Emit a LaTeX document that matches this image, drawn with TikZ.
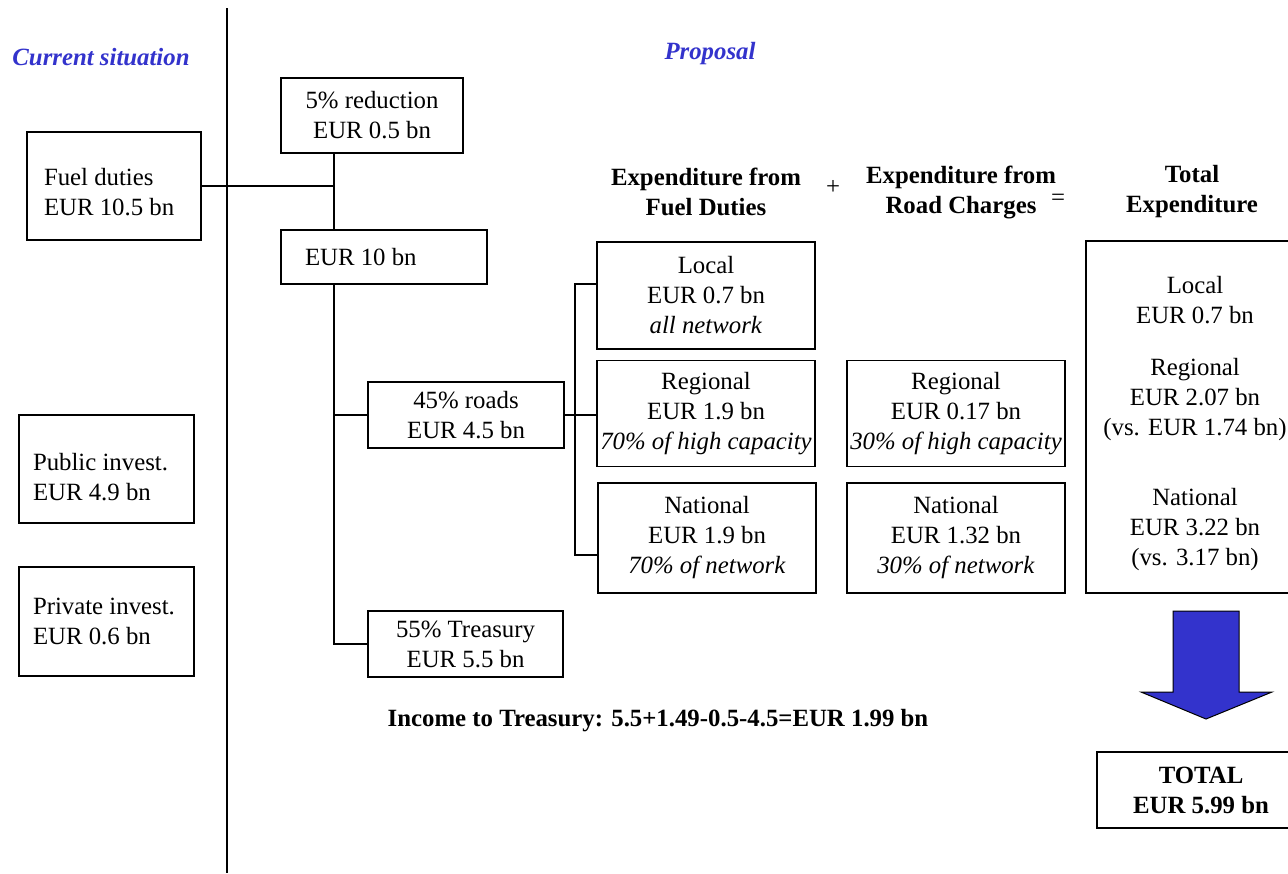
\documentclass[tikz,border=0pt]{standalone}
\usepackage{fontspec}
\setmainfont{Liberation Serif}
\definecolor{headblue}{RGB}{51,51,204}
\newcommand{\diagfont}{\fontsize{12.4}{15}\selectfont}
\begin{document}
\begin{tikzpicture}[
  x=0.5pt, y=-0.5pt,
  every node/.style={font=\diagfont},
  box/.style={rectangle, draw=black, line width=0.7pt, align=center, inner sep=0pt},
  leftbox/.style={rectangle, draw=black, line width=0.7pt, align=flush left, inner ysep=0pt, inner xsep=#1},
  title/.style={font=\diagfont\bfseries\itshape, text=headblue},
  head/.style={font=\diagfont\bfseries, align=center},
  link/.style={line width=0.7pt}
]
\useasboundingbox (0,0) rectangle (1288,873);

% Current situation
\node[title] (cur_title) at (101,57) {Current situation};
\node[leftbox=8.5pt, text width=70pt, minimum height=54pt] (fuel) at (114,186) {\rule{0pt}{15pt}Fuel duties\\EUR 10.5 bn};
\node[leftbox=7pt, text width=73.5pt, minimum height=54pt] (pub_inv) at (106.5,469) {\rule{0pt}{17pt}Public invest.\\EUR 4.9 bn};
\node[leftbox=7pt, text width=73.5pt, minimum height=54.5pt] (priv_inv) at (106.5,621.5) {Private invest.\\EUR 0.6 bn};

\coordinate (div_top) at (227,8);
\coordinate (div_bot) at (227,873);
\draw[link] (div_top) -- (div_bot);

% Proposal
\node[title] (prop_title) at (710,54) {Proposal};
\node[box, minimum width=91pt, minimum height=37.5pt] (cut) at (372,115.5) {5\% reduction\\EUR 0.5 bn};
\node[leftbox=12pt, text width=79pt, minimum height=27pt] (ten) at (384,257) {EUR 10 bn};
\node[box, minimum width=98pt, minimum height=33pt] (roads) at (466,415) {45\% roads\\EUR 4.5 bn};
\node[box, minimum width=97.5pt, minimum height=33pt] (treasury) at (465.5,644) {55\% Treasury\\EUR 5.5 bn};

\coordinate (spine) at (334,0);
\draw[link] (fuel.east) -- (fuel.east -| spine);
\draw[link] (cut.south -| spine) -- (ten.north -| spine);
\draw[link] (ten.south -| spine) |- (treasury.west);
\draw[link] (roads.west -| spine) -- (roads.west);

% Expenditure headers
\node[head] (h_fuel) at (706,192) {Expenditure from\\Fuel Duties};
\node[head] (h_road) at (961,192) {Expenditure from\\Road Charges};
\node[head] (h_total) at (1192,192) {Total\\Expenditure};
\node (plus) at (833,187) {+};
\node (equals) at (1058,200) {=};

% From fuel duties
\node[box, minimum width=109pt, minimum height=53.5pt] (fd_local) at (706,295.5) {Local\\EUR 0.7 bn\\\textit{all network}};
\node[box, minimum width=109pt, minimum height=53pt] (fd_reg) at (706,413.5) {Regional\\EUR 1.9 bn\\\textit{70\% of high capacity}};
\node[box, minimum width=109pt, minimum height=55pt] (fd_nat) at (707,538) {National\\EUR 1.9 bn\\\textit{70\% of network}};

\coordinate (fork_top) at (575,284);
\coordinate (fork_bot) at (575,555);
\draw[link] (fork_top -| fd_local.west) -| (fork_bot) -- (fork_bot -| fd_nat.west);
\draw[link] (roads.east) -- (roads.east -| fd_reg.west);

% From road charges
\node[box, minimum width=109pt, minimum height=53pt] (rc_reg) at (956,413.5) {Regional\\EUR 0.17 bn\\\textit{30\% of high capacity}};
\node[box, minimum width=109pt, minimum height=55pt] (rc_nat) at (956,538) {National\\EUR 1.32 bn\\\textit{30\% of network}};

% Total
\node[box, minimum width=109pt, minimum height=176pt] (total) at (1195,417)
  {\rule{0pt}{15pt}Local\\EUR 0.7 bn\\[11pt]Regional\\EUR 2.07 bn\\(vs. EUR 1.74 bn)\\[20pt]National\\EUR 3.22 bn\\(vs. 3.17 bn)};

\filldraw[fill=headblue, draw=black, line width=0.5pt]
  (1173,611) -- (1239,611) -- (1239,692) -- (1272,692) -- (1206,719)
  -- (1141,692) -- (1173,692) -- cycle;

\node[box, font=\diagfont\bfseries, minimum width=104pt, minimum height=38pt] (grand) at (1201,790) {TOTAL\\EUR 5.99 bn};

\node[head] (income) at (658,721) {Income to Treasury: 5.5+1.49-0.5-4.5=EUR 1.99 bn};

\end{tikzpicture}
\end{document}
